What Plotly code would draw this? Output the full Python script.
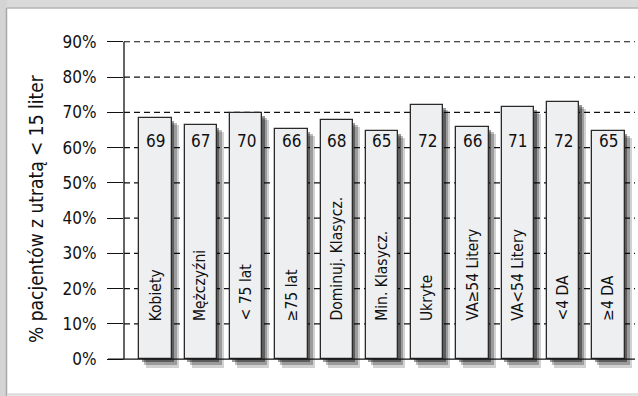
import plotly.graph_objects as go

categories = ["Kobiety", "Mężczyźni", "< 75 lat", "≥75 lat", "Dominuj. Klasycz.",
              "Min. Klasycz.", "Ukryte", "VA≥54 Litery", "VA<54 Litery", "<4 DA", "≥4 DA"]
values = [68.3, 66.5, 69.9, 65.3, 67.7, 64.8, 72.1, 65.9, 71.6, 73.0, 64.7]
value_labels = ["69", "67", "70", "66", "68", "65", "72", "66", "71", "72", "65"]
y_ticks = [0, 10, 20, 30, 40, 50, 60, 70, 80, 90]
y_tick_text = ["0%", "10%", "20%", "30%", "40%", "50%", "60%", "70%", "80%", "90%"]
y_title = "% pacjentów z utratą < 15 liter"

W, H = 638, 396
ML, MR, MT, MB = 124, 3, 40, 27
YMIN, YMAX = -2.8, 90.5
PW, PH = W - ML - MR, H - MT - MB
XR = [-0.695, 10.585]
cat_px = PW / (XR[1] - XR[0])
y_px = PH / (YMAX - YMIN)

def px(x):
    return (x - ML) / PW

def py(y):
    return (H - MB - y) / PH

FONT = "DejaVu Sans Condensed, sans-serif"
bw = 0.713

fig = go.Figure()

# soft drop shadows (layered)
for dx, db, dt, op in [(7, 9, 7, 0.18), (5, 6, 5, 0.26), (2.5, 3, 3, 0.4)]:
    base = -db / y_px
    fig.add_trace(go.Bar(
        x=categories,
        y=[v - dt / y_px - base for v in values],
        base=[base] * len(values),
        width=bw, offset=-bw / 2 + dx / cat_px,
        marker=dict(color="black", opacity=op, line=dict(width=0)),
        hoverinfo="skip", showlegend=False,
    ))

fig.add_trace(go.Bar(
    x=categories, y=values, width=bw, offset=-bw / 2,
    marker=dict(color="#EEEFF1", line=dict(color="#2a2a2a", width=1.3)),
    hoverinfo="skip", showlegend=False,
))

annotations = []
for c, lab in zip(categories, value_labels):
    annotations.append(dict(x=c, y=62, text=lab, showarrow=False,
                            font=dict(family=FONT, size=17, color="#111"),
                            xanchor="center", yanchor="middle"))
    annotations.append(dict(x=c, y=10.3, text=c, showarrow=False, textangle=-90,
                            font=dict(family=FONT, size=15.5, color="#111"),
                            xanchor="center", yanchor="bottom"))

annotations.append(dict(x=px(36), y=py(209), xref="paper", yref="paper", text=y_title,
                        showarrow=False, textangle=-90,
                        font=dict(family=FONT, size=19, color="#111"),
                        xanchor="center", yanchor="middle"))

shapes = [
    # frame decoration
    dict(type="rect", xref="paper", yref="paper", x0=px(0), x1=px(W), y0=py(0), y1=py(8),
         fillcolor="#dadada", line=dict(width=0), layer="below"),
    dict(type="line", xref="paper", yref="paper", x0=px(7), x1=px(W), y0=py(8), y1=py(8),
         line=dict(color="#b5b5b5", width=1.5)),
    dict(type="rect", xref="paper", yref="paper", x0=px(0), x1=px(7), y0=py(0), y1=py(H),
         fillcolor="#d4d4d4", line=dict(width=0), layer="below"),
    dict(type="line", xref="paper", yref="paper", x0=px(6.5), x1=px(6.5), y0=py(8), y1=py(H),
         line=dict(color="#a8a8a8", width=1.5)),
    dict(type="line", xref="paper", yref="paper", x0=px(7), x1=px(W), y0=py(394.5), y1=py(394.5),
         line=dict(color="#dddddd", width=2.5)),
]
# dashed gridlines under the bars
for t in y_ticks[1:]:
    shapes.append(dict(type="line", xref="x domain", yref="y", x0=0, x1=1, y0=t, y1=t,
                       line=dict(color="#111", width=1.2, dash="6px,4px"), layer="below"))
# axis lines
shapes += [
    dict(type="line", xref="paper", yref="y", x0=px(108), x1=px(635), y0=0, y1=0,
         line=dict(color="#111", width=1.3), layer="above"),
    dict(type="line", xref="x domain", yref="y", x0=0, x1=0, y0=0, y1=90,
         line=dict(color="#111", width=1.3), layer="above"),
]

fig.update_layout(
    width=W, height=H,
    margin=dict(l=ML, r=MR, t=MT, b=MB, pad=0),
    paper_bgcolor="white", plot_bgcolor="rgba(0,0,0,0)",
    barmode="overlay", bargap=0,
    showlegend=False,
    annotations=annotations, shapes=shapes,
    xaxis=dict(type="category", range=XR, showticklabels=False, ticks="",
               showgrid=False, zeroline=False, showline=False, fixedrange=True),
    yaxis=dict(range=[YMIN, YMAX], tickvals=y_ticks, ticktext=y_tick_text,
               ticks="outside", ticklen=16, tickwidth=1.2, tickcolor="#111",
               ticklabelstandoff=7,
               tickfont=dict(family=FONT, size=17, color="#111"),
               showgrid=False, zeroline=False, showline=False, fixedrange=True),
)

fig.write_html("out.html", config={"displayModeBar": False})
